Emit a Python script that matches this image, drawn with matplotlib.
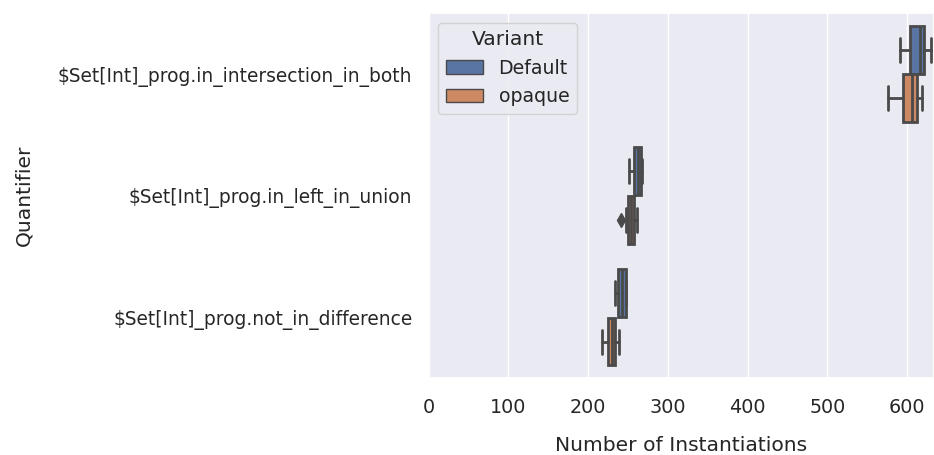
import matplotlib
matplotlib.use("Agg")
import matplotlib.pyplot as plt
import seaborn as sns
from matplotlib.patches import Patch

quantifiers = ['$Set[Int]_prog.in_intersection_in_both',
               '$Set[Int]_prog.in_left_in_union',
               '$Set[Int]_prog.not_in_difference']
variants = ['Default', 'opaque']

# five-number summaries, one value per quantifier
whislo = {'Default': [591, 251, 234], 'opaque': [576, 247, 218]}
q1 = {'Default': [604, 257.5, 238], 'opaque': [595, 250, 225.5]}
med = {'Default': [616, 262, 243], 'opaque': [607, 254, 229.5]}
q3 = {'Default': [621, 266, 247], 'opaque': [613, 258, 234]}
whishi = {'Default': [630, 268, 248], 'opaque': [619, 261.5, 239]}
fliers = {'Default': [[], [], []], 'opaque': [[], [241], []]}

colors = {'Default': '#5875a4', 'opaque': '#cc8963'}
gray = '#4a4a4a'

sns.set_theme(style='darkgrid', font_scale=1.2)
plt.rcParams['font.family'] = ['DejaVu Sans']

fig = plt.figure(figsize=(9.34, 4.55), dpi=100)
ax = fig.add_axes([0.459, 0.169, 0.541, 0.802])

for j, v in enumerate(variants):
    stats = []
    for i in range(len(quantifiers)):
        stats.append({'whislo': whislo[v][i], 'q1': q1[v][i], 'med': med[v][i],
                      'q3': q3[v][i], 'whishi': whishi[v][i], 'fliers': fliers[v][i]})
    pos = [i - 0.2 + 0.4 * j for i in range(len(quantifiers))]
    ax.bxp(stats, positions=pos, widths=0.392, orientation='horizontal',
           patch_artist=True, manage_ticks=False,
           boxprops=dict(facecolor=colors[v], edgecolor=gray, linewidth=2),
           medianprops=dict(color=gray, linewidth=2),
           whiskerprops=dict(color=gray, linewidth=2),
           capprops=dict(color=gray, linewidth=2),
           flierprops=dict(marker='d', markerfacecolor=gray, markeredgecolor=gray,
                           markersize=7))

ax.set_yticks(range(len(quantifiers)))
ax.set_yticklabels(quantifiers)
ax.set_ylim(2.5, -0.5)
ax.set_xlim(0, 634)
ax.set_xticks([0, 100, 200, 300, 400, 500, 600])
ax.tick_params(axis='x', labelsize=13.8, pad=8)
ax.tick_params(axis='y', labelsize=13.4, pad=5.7)
ax.grid(True, axis='x')
ax.grid(False, axis='y')
ax.set_xlabel('Number of Instantiations', fontsize=14.6, labelpad=14)
ax.set_ylabel('Quantifier', fontsize=14.6, labelpad=18)

handles = [Patch(facecolor=colors[v], edgecolor=gray, label=v) for v in variants]
ax.legend(handles=handles, title='Variant', loc='upper left',
          fontsize=13.6, title_fontsize=14.6)

fig.savefig('out.png', dpi=100)
